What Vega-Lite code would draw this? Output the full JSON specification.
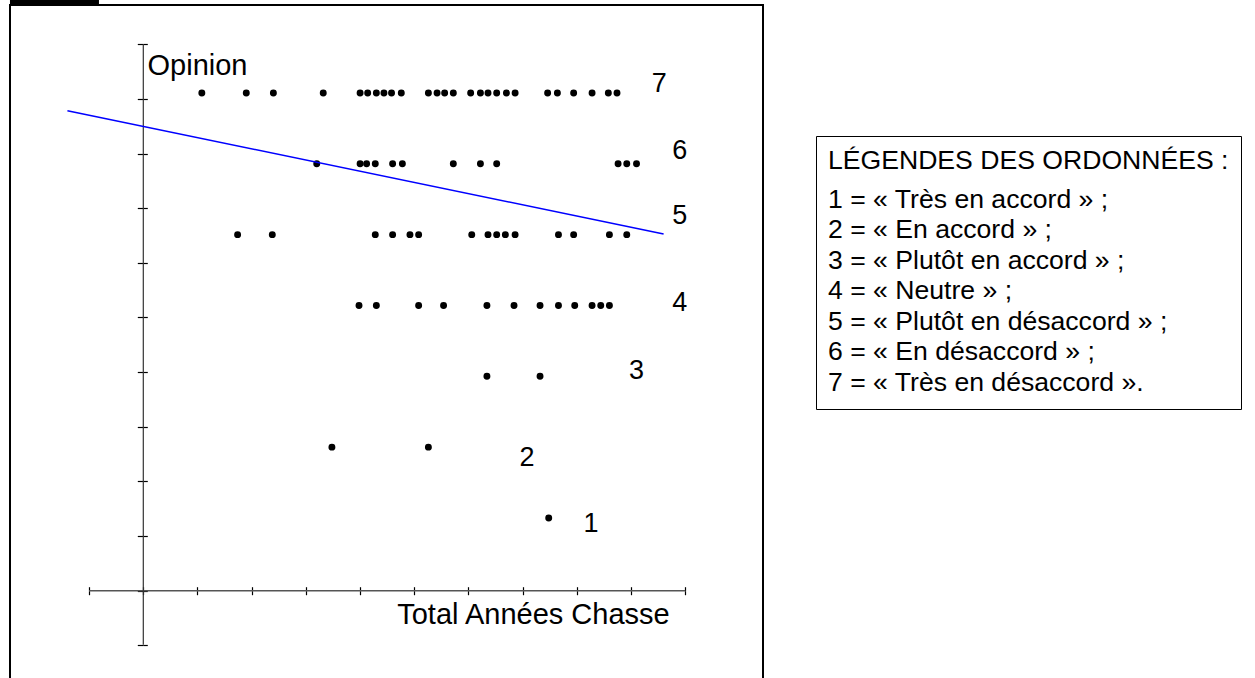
{
  "$schema": "https://vega.github.io/schema/vega-lite/v6.json",
  "width": 753,
  "height": 690,
  "autosize": {"type": "none"},
  "padding": {"left": 10, "top": 5, "right": 492, "bottom": 0},
  "background": "white",
  "config": {"view": {"stroke": "black", "strokeWidth": 2}, "font": "Liberation Sans"},
  "data": {"values": [{}]},
  "datasets": {
    "points": [
      {"annees": 5.4, "opinion": 7}, {"annees": 9.5, "opinion": 7}, {"annees": 12.0, "opinion": 7}, {"annees": 16.6, "opinion": 7},
      {"annees": 20.0, "opinion": 7}, {"annees": 20.7, "opinion": 7}, {"annees": 21.5, "opinion": 7}, {"annees": 22.2, "opinion": 7},
      {"annees": 22.9, "opinion": 7}, {"annees": 23.8, "opinion": 7}, {"annees": 26.3, "opinion": 7}, {"annees": 27.1, "opinion": 7},
      {"annees": 27.8, "opinion": 7}, {"annees": 28.6, "opinion": 7}, {"annees": 30.2, "opinion": 7}, {"annees": 31.1, "opinion": 7},
      {"annees": 31.8, "opinion": 7}, {"annees": 32.6, "opinion": 7}, {"annees": 33.5, "opinion": 7}, {"annees": 34.3, "opinion": 7},
      {"annees": 37.3, "opinion": 7}, {"annees": 38.2, "opinion": 7}, {"annees": 39.7, "opinion": 7}, {"annees": 41.4, "opinion": 7},
      {"annees": 42.9, "opinion": 7}, {"annees": 43.7, "opinion": 7},
      {"annees": 16.0, "opinion": 6}, {"annees": 20.0, "opinion": 6}, {"annees": 20.6, "opinion": 6}, {"annees": 21.4, "opinion": 6},
      {"annees": 23.0, "opinion": 6}, {"annees": 23.9, "opinion": 6}, {"annees": 28.6, "opinion": 6}, {"annees": 31.1, "opinion": 6},
      {"annees": 32.6, "opinion": 6}, {"annees": 43.8, "opinion": 6}, {"annees": 44.6, "opinion": 6}, {"annees": 45.5, "opinion": 6},
      {"annees": 8.7, "opinion": 5}, {"annees": 11.9, "opinion": 5}, {"annees": 21.4, "opinion": 5}, {"annees": 23.0, "opinion": 5},
      {"annees": 24.6, "opinion": 5}, {"annees": 25.4, "opinion": 5}, {"annees": 30.3, "opinion": 5}, {"annees": 31.8, "opinion": 5},
      {"annees": 32.6, "opinion": 5}, {"annees": 33.4, "opinion": 5}, {"annees": 34.3, "opinion": 5}, {"annees": 38.3, "opinion": 5},
      {"annees": 39.7, "opinion": 5}, {"annees": 43.0, "opinion": 5}, {"annees": 44.6, "opinion": 5},
      {"annees": 19.9, "opinion": 4}, {"annees": 21.5, "opinion": 4}, {"annees": 25.4, "opinion": 4}, {"annees": 27.7, "opinion": 4},
      {"annees": 31.7, "opinion": 4}, {"annees": 34.2, "opinion": 4}, {"annees": 36.6, "opinion": 4}, {"annees": 38.3, "opinion": 4},
      {"annees": 39.8, "opinion": 4}, {"annees": 41.4, "opinion": 4}, {"annees": 42.2, "opinion": 4}, {"annees": 43.0, "opinion": 4},
      {"annees": 31.7, "opinion": 3}, {"annees": 36.6, "opinion": 3},
      {"annees": 17.4, "opinion": 2}, {"annees": 26.3, "opinion": 2},
      {"annees": 37.4, "opinion": 1}
    ],
    "droite": [
      {"annees": -7.0, "opinion": 6.75},
      {"annees": 48.0, "opinion": 5.01}
    ],
    "etiquettes": [
      {"texte": "7", "annees": 47.6, "opinion": 7.13},
      {"texte": "6", "annees": 49.5, "opinion": 6.18},
      {"texte": "5", "annees": 49.5, "opinion": 5.26},
      {"texte": "4", "annees": 49.5, "opinion": 4.04},
      {"texte": "3", "annees": 45.5, "opinion": 3.08},
      {"texte": "2", "annees": 35.4, "opinion": 1.85},
      {"texte": "1", "annees": 41.3, "opinion": 0.92}
    ],
    "legende": [
      {"libelle": "1 = « Très en accord » ;"},
      {"libelle": "2 = « En accord » ;"},
      {"libelle": "3 = « Plutôt en accord » ;"},
      {"libelle": "4 = « Neutre » ;"},
      {"libelle": "5 = « Plutôt en désaccord » ;"},
      {"libelle": "6 = « En désaccord » ;"},
      {"libelle": "7 = « Très en désaccord »."}
    ]
  },
  "layer": [
    {
      "mark": {"type": "rect", "color": "black"},
      "encoding": {
        "x": {"datum": -12.3, "type": "quantitative", "scale": {"domain": [-12.297, 57.168], "nice": false, "zero": false}, "axis": null},
        "x2": {"datum": -4.09},
        "y": {"datum": 8.313, "type": "quantitative", "scale": {"domain": [-1.4994, 8.2422], "nice": false, "zero": false}, "axis": null},
        "y2": {"datum": 8.228}
      }
    },
    {
      "mark": {"type": "rule", "color": "#555555", "strokeWidth": 1.4},
      "encoding": {
        "x": {"datum": -5, "type": "quantitative", "scale": {"domain": [-12.297, 57.168], "nice": false, "zero": false}, "axis": null},
        "x2": {"datum": 50},
        "y": {"datum": -0.027, "type": "quantitative", "scale": {"domain": [-1.4994, 8.2422], "nice": false, "zero": false}, "axis": null}
      }
    },
    {
      "mark": {"type": "rule", "color": "#333333", "strokeWidth": 1.2},
      "encoding": {
        "x": {"datum": 0, "type": "quantitative", "scale": {"domain": [-12.297, 57.168], "nice": false, "zero": false}, "axis": null},
        "y": {"datum": -0.79, "type": "quantitative", "scale": {"domain": [-1.4994, 8.2422], "nice": false, "zero": false}, "axis": null},
        "y2": {"datum": 7.688}
      }
    },
    {
      "data": {"name": "points"},
      "mark": {"type": "circle", "size": 48, "color": "black", "opacity": 1},
      "encoding": {
        "x": {
          "field": "annees", "type": "quantitative",
          "scale": {"domain": [-12.297, 57.168], "nice": false, "zero": false},
          "axis": {
            "orient": "bottom", "offset": -104.3, "values": [-5, 0, 5, 10, 15, 20, 25, 30, 35, 40, 45, 50],
            "domain": false, "grid": false, "labels": false, "ticks": true, "tickSize": 4, "tickColor": "black", "tickWidth": 1.2,
            "title": "Total Années Chasse", "titleX": 386.7, "titleY": 32.6, "titleAlign": "left", "titleBaseline": "alphabetic",
            "titleFont": "Liberation Sans", "titleFontSize": 29, "titleFontWeight": "normal", "titleColor": "black"
          }
        },
        "y": {
          "field": "opinion", "type": "quantitative",
          "scale": {"domain": [-1.4994, 8.2422], "nice": false, "zero": false},
          "axis": {
            "orient": "left", "offset": -133.3,
            "values": [-0.79, -0.027, 0.745, 1.516, 2.288, 3.059, 3.831, 4.602, 5.374, 6.145, 6.917, 7.688],
            "domain": false, "grid": false, "labels": false, "ticks": true, "tickSize": 6, "tickColor": "black", "tickWidth": 1.2,
            "title": "Opinion", "titleAngle": 0, "titleX": 3.7, "titleY": 69, "titleAlign": "left", "titleBaseline": "alphabetic",
            "titleFont": "Liberation Sans", "titleFontSize": 29, "titleFontWeight": "normal", "titleColor": "black"
          }
        }
      }
    },
    {
      "data": {"name": "droite"},
      "mark": {"type": "line", "color": "#0000ff", "strokeWidth": 1.5},
      "encoding": {
        "x": {
          "field": "annees", "type": "quantitative",
          "scale": {"domain": [-12.297, 57.168], "nice": false, "zero": false},
          "axis": {
            "orient": "top", "offset": -585.7, "values": [-5, 0, 5, 10, 15, 20, 25, 30, 35, 40, 45, 50],
            "domain": false, "grid": false, "labels": false, "ticks": true, "tickSize": 4, "tickColor": "black", "tickWidth": 1.2, "title": null
          }
        },
        "y": {
          "field": "opinion", "type": "quantitative",
          "scale": {"domain": [-1.4994, 8.2422], "nice": false, "zero": false},
          "axis": {
            "orient": "right", "offset": -619.7,
            "values": [-0.79, -0.027, 0.745, 1.516, 2.288, 3.059, 3.831, 4.602, 5.374, 6.145, 6.917, 7.688],
            "domain": false, "grid": false, "labels": false, "ticks": true, "tickSize": 4, "tickColor": "black", "tickWidth": 1.2, "title": null
          }
        }
      }
    },
    {
      "data": {"name": "etiquettes"},
      "mark": {"type": "text", "font": "Liberation Sans", "fontSize": 27, "color": "black", "align": "center", "baseline": "middle"},
      "encoding": {
        "x": {"field": "annees", "type": "quantitative", "scale": {"domain": [-12.297, 57.168], "nice": false, "zero": false}, "axis": null},
        "y": {"field": "opinion", "type": "quantitative", "scale": {"domain": [-1.4994, 8.2422], "nice": false, "zero": false}, "axis": null},
        "text": {"field": "texte"}
      }
    },
    {
      "data": {"name": "legende"},
      "mark": {"type": "point", "opacity": 0},
      "encoding": {
        "color": {
          "field": "libelle", "type": "nominal",
          "scale": {"range": ["black"]},
          "legend": {
            "orient": "none", "legendX": 806, "legendY": 131,
            "title": "LÉGENDES DES ORDONNÉES :", "titleFont": "Liberation Sans", "titleFontSize": 26.6, "titleFontWeight": "normal",
            "titleColor": "black", "titleLimit": 700, "titlePadding": 12,
            "labelFont": "Liberation Sans", "labelFontSize": 26.6, "labelColor": "black", "labelLimit": 700, "labelOffset": -26.6,
            "symbolSize": 0, "symbolOpacity": 0, "symbolStrokeWidth": 0, "rowPadding": 3.5,
            "padding": 12, "strokeColor": "black", "fillColor": "white"
          }
        }
      }
    }
  ],
  "resolve": {"axis": {"x": "independent", "y": "independent"}}
}
